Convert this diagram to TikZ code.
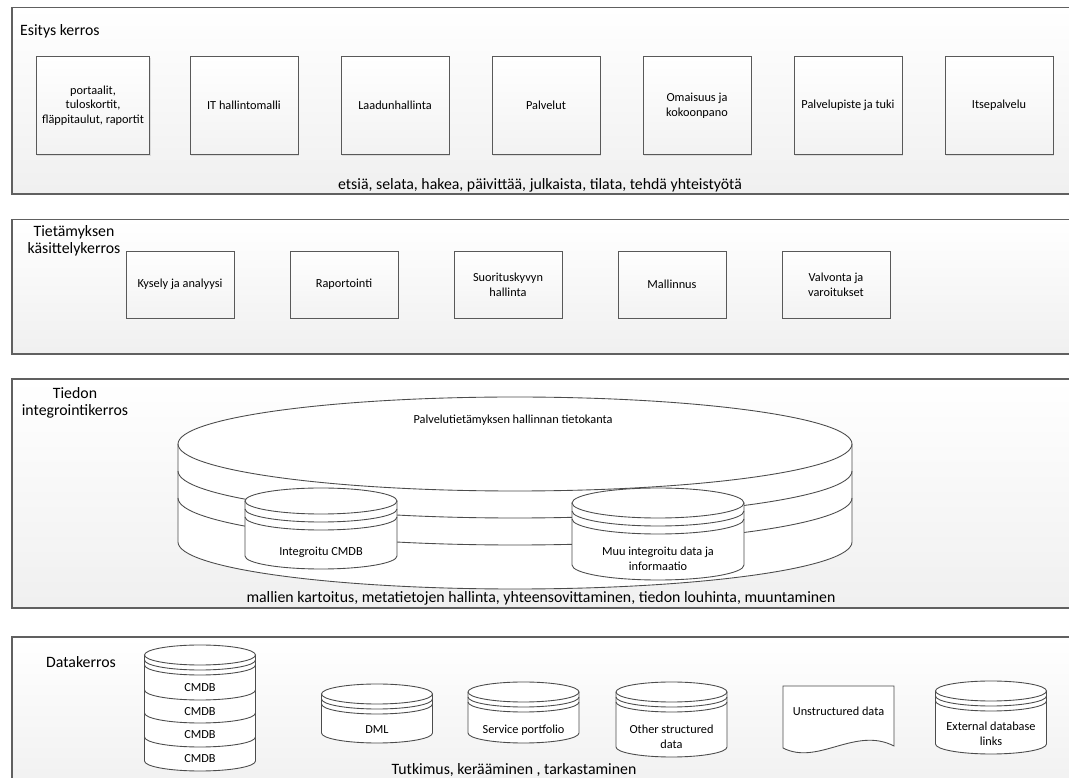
\documentclass[tikz,border=0pt]{standalone}
\usepackage{fontspec}
\setmainfont{Carlito}
\usetikzlibrary{shadows}

\tikzset{
  layer/.style={draw=gray!75!black, line width=0.6pt, top color=white, bottom color=gray!12,
    drop shadow={opacity=0.2, shadow xshift=0.7pt, shadow yshift=-0.7pt}},
  pal/.style={draw=gray!70!black, line width=0.5pt, top color=white, bottom color=gray!10,
    drop shadow={opacity=0.2, shadow xshift=0.7pt, shadow yshift=-0.7pt},
    align=center, font=\fontsize{7}{8.3}\selectfont},
  palbox/.style={pal, minimum width=2.16cm, minimum height=1.96cm},
  kasbox/.style={pal, minimum width=2.16cm, minimum height=1.34cm},
  db/.style={draw=gray!60!black, line width=0.5pt},
  lbl/.style={font=\fontsize{9}{10}\selectfont, align=center},
  small/.style={font=\fontsize{7}{8.3}\selectfont, align=center}
}

% cx, top y, bottom y, rx, ry, gap
\newcommand{\datadisk}[6]{%
  \fill[white] ({#1-#4},#2) -- ({#1-#4},#3) arc[start angle=180, end angle=360, x radius=#4, y radius=#5]
    -- ({#1+#4},#2) arc[start angle=0, end angle=180, x radius=#4, y radius=#5] -- cycle;
  \draw[db] (#1,#2) ellipse[x radius=#4, y radius=#5];
  \draw[db] ({#1-#4},{#2-#6}) arc[start angle=180, end angle=360, x radius=#4, y radius=#5];
  \draw[db] ({#1-#4},{#2-2*#6}) arc[start angle=180, end angle=360, x radius=#4, y radius=#5];
  \draw[db] ({#1-#4},#2) -- ({#1-#4},#3) arc[start angle=180, end angle=360, x radius=#4, y radius=#5] -- ({#1+#4},#2);
}

\begin{document}
\begin{tikzpicture}[x=0.02cm, y=0.02cm]
\useasboundingbox (0,0) rectangle (1069,778);
\clip (0,0) rectangle (1069,778);

% layers
\draw[layer] (12,584) rectangle (1090,770.4);
\draw[layer] (12,424) rectangle (1090,558.5);
\draw[layer] (12,170) rectangle (1090,399);
\draw[layer] (12,-20) rectangle (1090,141);

% Esitys kerros
\node[lbl, anchor=west] (esitys) at (14,747) {Esitys kerros};
\node[palbox] (portaalit) at (93,672.5) {portaalit,\\tuloskortit,\\fläppitaulut, raportit};
\node[palbox] (itmalli) at (244,672.5) {IT hallintomalli};
\node[palbox] (laatu) at (395,672.5) {Laadunhallinta};
\node[palbox] (palvelut) at (546,672.5) {Palvelut};
\node[palbox] (omaisuus) at (697,672.5) {Omaisuus ja\\kokoonpano};
\node[palbox] (piste) at (848,672.5) {Palvelupiste ja tuki};
\node[palbox] (itse) at (999,672.5) {Itsepalvelu};
\node[lbl] (esitysala) at (540,593) {etsiä, selata, hakea, päivittää, julkaista, tilata, tehdä yhteistyötä};

% Tietamyksen kasittelykerros
\node[lbl] (tietam) at (74,537) {Tietämyksen\\käsittelykerros};
\node[kasbox] (kysely) at (180,493.5) {Kysely ja analyysi};
\node[kasbox] (raport) at (344,493.5) {Raportointi};
\node[kasbox] (suor) at (508,493.5) {Suorituskyvyn\\hallinta};
\node[kasbox] (malli) at (672,493.5) {Mallinnus};
\node[kasbox] (valvonta) at (836,493.5) {Valvonta ja\\varoitukset};

% Tiedon integrointikerros
\node[lbl] (tiedon) at (75,375) {Tiedon\\integrointikerros};
\datadisk{515}{334}{236}{337}{47}{27}
\node[small] (pktk) at (513,358) {Palvelutietämyksen hallinnan tietokanta};
\datadisk{321}{277}{222}{76}{13}{8}
\node[small] (intcmdb) at (321,226) {Integroitu CMDB};
\datadisk{658}{275}{213}{86}{15}{8}
\node[small] (muu) at (658,219) {Muu integroitu data ja\\informaatio};
\node[lbl] (integrala) at (541,180) {mallien kartoitus, metatietojen hallinta, yhteensovittaminen, tiedon louhinta, muuntaminen};

% Datakerros
\node[lbl, anchor=west] (datak) at (40,116) {Datakerros};
\datadisk{200}{123}{17}{55.5}{10}{5}
\draw[db] (144.5,88) arc[start angle=180, end angle=360, x radius=55.5, y radius=10];
\draw[db] (144.5,65) arc[start angle=180, end angle=360, x radius=55.5, y radius=10];
\draw[db] (144.5,41) arc[start angle=180, end angle=360, x radius=55.5, y radius=10];
\node[small] (cmdb1) at (200,90) {CMDB};
\node[small] (cmdb2) at (200,66) {CMDB};
\node[small] (cmdb3) at (200,43) {CMDB};
\node[small] (cmdb4) at (200,19) {CMDB};
\datadisk{377}{84}{45}{55.5}{10}{5}
\node[small] (dml) at (377,48) {DML};
\datadisk{523.5}{86}{45}{55.5}{10}{5}
\node[small] (portfolio) at (523.5,48) {Service portfolio};
\datadisk{671.5}{86}{31}{55.5}{10}{5}
\node[small] (other) at (671.5,41.5) {Other structured\\data};
\draw[db, fill=white] (783,92) -- (783,30) .. controls (818,12) and (855,52) .. (894,32) -- (894,92) -- cycle;
\node[small] (unstr) at (838.5,67) {Unstructured data};
\datadisk{991}{87}{34}{55.5}{10}{5}
\node[small] (external) at (991,44.5) {External database\\links};
\node[lbl] (datakala) at (514,8) {Tutkimus, kerääminen , tarkastaminen};
\end{tikzpicture}
\end{document}
